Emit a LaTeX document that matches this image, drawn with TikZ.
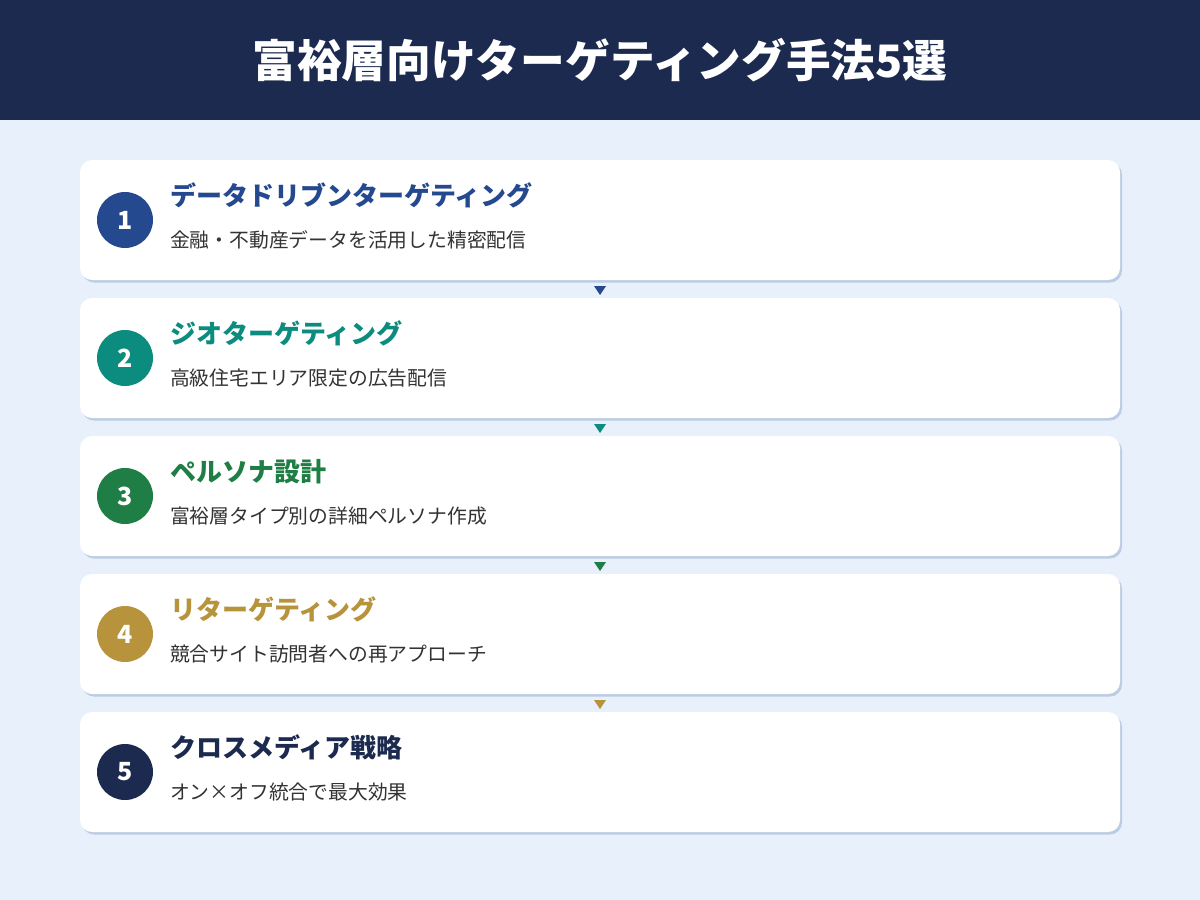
\documentclass[tikz,border=0pt]{standalone}
\usepackage{fontspec}
\setmainfont{Noto Sans CJK JP}
\usepackage{xcolor}
\usetikzlibrary{positioning,calc,shadows}

\definecolor{navy}{HTML}{1B2A4E}
\definecolor{pagebg}{HTML}{E8F0FB}
\definecolor{cardshadow}{HTML}{BCCCE3}
\definecolor{subgrey}{HTML}{333333}
\definecolor{stepA}{HTML}{24498F}
\definecolor{stepB}{HTML}{0C8C7E}
\definecolor{stepC}{HTML}{1F7E45}
\definecolor{stepD}{HTML}{B7933C}
\definecolor{stepE}{HTML}{1B2A4E}

\begin{document}
\begin{tikzpicture}[x=1pt, y=1pt,
	card/.style={fill=white, rounded corners=12pt, minimum width=1040pt, minimum height=120pt, inner sep=0pt,
		drop shadow={shadow xshift=2pt, shadow yshift=-2.5pt, fill=cardshadow, opacity=1}},
	num/.style={circle, minimum size=56pt, inner sep=0pt, text=white, font=\bfseries\fontsize{25}{25}\selectfont},
	ttl/.style={anchor=base west, inner sep=0pt, font=\bfseries\fontsize{26}{26}\selectfont},
	sub/.style={anchor=base west, inner sep=0pt, text=subgrey, font=\fontsize{19.8}{19.8}\selectfont}]
	% page and header
	\fill[pagebg] (0,0) rectangle (1200,-900);
	\fill[navy] (0,0) rectangle (1200,-120);
	\useasboundingbox (0,0) rectangle (1200,-900);
	\node[text=white, font=\bfseries\fontsize{44.7}{44.7}\selectfont] (title) at (600,-60) {富裕層向けターゲティング手法5選};

	% cards
	\node[card] (c1) at (600,-220) {};
	\node[card] (c2) at (600,-358) {};
	\node[card] (c3) at (600,-496) {};
	\node[card] (c4) at (600,-634) {};
	\node[card] (c5) at (600,-772) {};

	% numbers
	\node[num, fill=stepA, right=17pt of c1.west] (n1) {1};
	\node[num, fill=stepB, right=17pt of c2.west] (n2) {2};
	\node[num, fill=stepC, right=17pt of c3.west] (n3) {3};
	\node[num, fill=stepD, right=17pt of c4.west] (n4) {4};
	\node[num, fill=stepE, right=17pt of c5.west] (n5) {5};

	% titles and descriptions
	\node[ttl, text=stepA] (t1) at ($(c1.west)+(90,15)$) {データドリブンターゲティング};
	\node[sub] (s1) at ($(c1.west)+(90,-27)$) {金融・不動産データを活用した精密配信};
	\node[ttl, text=stepB] (t2) at ($(c2.west)+(90,15)$) {ジオターゲティング};
	\node[sub] (s2) at ($(c2.west)+(90,-27)$) {高級住宅エリア限定の広告配信};
	\node[ttl, text=stepC] (t3) at ($(c3.west)+(90,15)$) {ペルソナ設計};
	\node[sub] (s3) at ($(c3.west)+(90,-27)$) {富裕層タイプ別の詳細ペルソナ作成};
	\node[ttl, text=stepD] (t4) at ($(c4.west)+(90,15)$) {リターゲティング};
	\node[sub] (s4) at ($(c4.west)+(90,-27)$) {競合サイト訪問者への再アプローチ};
	\node[ttl, text=stepE] (t5) at ($(c5.west)+(90,15)$) {クロスメディア戦略};
	\node[sub] (s5) at ($(c5.west)+(90,-27)$) {オン×オフ統合で最大効果};

	% arrows between cards
	\coordinate (a1) at ($(c1.south)!0.5!(c2.north)$);
	\coordinate (a2) at ($(c2.south)!0.5!(c3.north)$);
	\coordinate (a3) at ($(c3.south)!0.5!(c4.north)$);
	\coordinate (a4) at ($(c4.south)!0.5!(c5.north)$);
	\fill[stepA] ($(a1)+(-6,3)$) -- ($(a1)+(6,3)$) -- ($(a1)+(0,-6)$) -- cycle;
	\fill[stepB] ($(a2)+(-6,3)$) -- ($(a2)+(6,3)$) -- ($(a2)+(0,-6)$) -- cycle;
	\fill[stepC] ($(a3)+(-6,3)$) -- ($(a3)+(6,3)$) -- ($(a3)+(0,-6)$) -- cycle;
	\fill[stepD] ($(a4)+(-6,3)$) -- ($(a4)+(6,3)$) -- ($(a4)+(0,-6)$) -- cycle;
\end{tikzpicture}
\end{document}
